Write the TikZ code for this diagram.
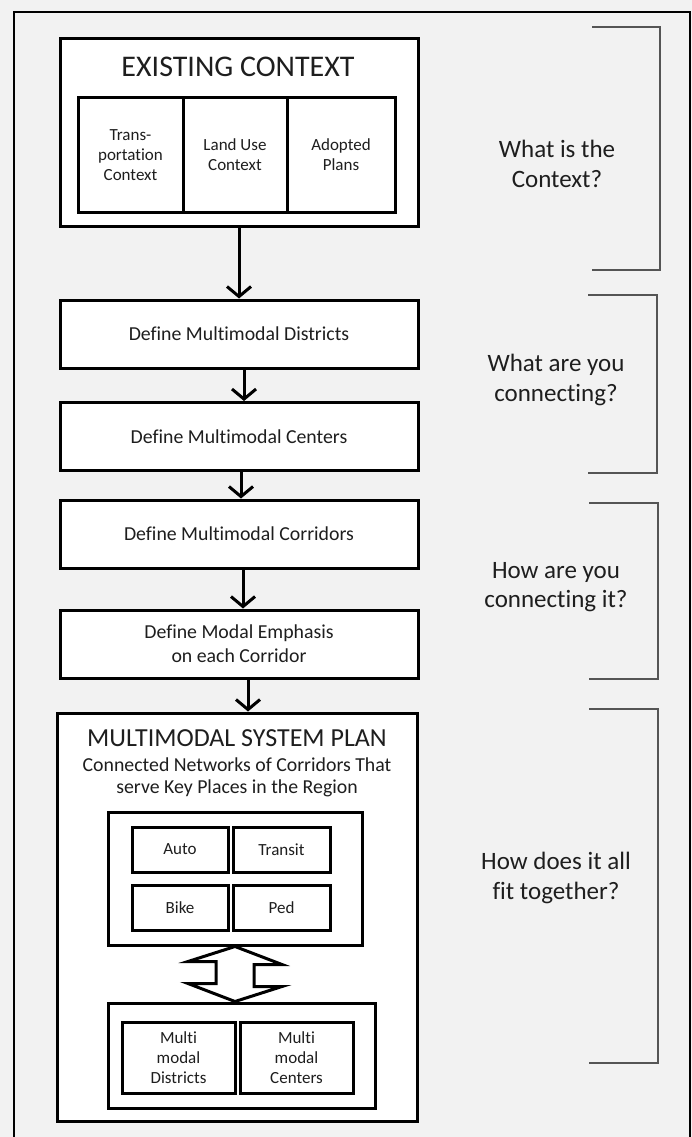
\documentclass[tikz,border=0pt]{standalone}
\usepackage{fontspec}
\setmainfont{Carlito}[Ligatures=NoCommon]
\usetikzlibrary{arrows.meta,positioning}
\definecolor{bgpage}{RGB}{242,242,242}
\definecolor{txtgray}{RGB}{30,30,30}
\definecolor{bracketgray}{RGB}{85,85,85}

\begin{document}
\begin{tikzpicture}[x=1pt,y=-1pt]
          \useasboundingbox (0,0) rectangle (692,1137);
          \fill[bgpage] (0,0) rectangle (692,1137);
          \draw[line width=2.2pt] (14,1137) -- (14,12) -- (690,12) -- (690,1137);

          \tikzstyle{box}=[draw, fill=white, line width=3pt, inner sep=0pt, text=txtgray, align=center]
          \tikzstyle{stepbox}=[box, minimum width=358pt, minimum height=68pt, font=\fontsize{19.8}{24}\selectfont]
          \tikzstyle{subbox}=[box, font=\fontsize{17}{20}\selectfont]
          \tikzstyle{modebox}=[box, minimum width=96pt, minimum height=45pt, font=\fontsize{17}{20}\selectfont]
          \tikzstyle{title}=[text=txtgray, align=center, inner sep=0pt]
          \tikzstyle{question}=[text=txtgray, align=center, inner sep=0pt, font=\fontsize{25}{29.5}\selectfont]

          % Existing context
          \node[box, minimum width=358pt, minimum height=187pt] (ctx) at (239,132.5) {};
          \node[title, font=\fontsize{30}{34}\selectfont] (ctxT) at (238,67) {EXISTING CONTEXT};
          \node[subbox, minimum width=105pt, minimum height=114pt] (trn) at (130.5,155) {Trans-\\portation\\Context};
          \node[subbox, minimum width=104pt, minimum height=114pt] (lnd) at (235,155) {Land Use\\Context};
          \node[subbox, minimum width=108pt, minimum height=114pt] (adp) at (341,155) {Adopted\\Plans};

          % Steps
          \node[stepbox] (dist) at (239,334) {Define Multimodal Districts};
          \node[stepbox] (cent) at (239,436.5) {Define Multimodal Centers};
          \node[stepbox] (corr) at (239,534) {Define Multimodal Corridors};
          \node[stepbox] (emph) at (239,644) {Define Modal Emphasis\\on each Corridor};

          % System plan
          \node[box, minimum width=360pt, minimum height=408pt] (plan) at (237,917) {};
          \node[title, font=\fontsize{26}{30}\selectfont] (planT) at (237,738) {MULTIMODAL SYSTEM PLAN};
          \node[title, font=\fontsize{19.8}{21.5}\selectfont] (planS) at (237,777.5) {Connected Networks of Corridors That\\serve Key Places in the Region};
          \node[box, minimum width=254pt, minimum height=133pt] (up) at (235,878.5) {};
          \node[modebox] (auto) at (180,849.5) {Auto};
          \node[modebox, minimum width=97pt] (trns) at (281.5,849.5) {Transit};
          \node[modebox] (bike) at (180,907.5) {Bike};
          \node[modebox, minimum width=97pt] (ped) at (281.5,907.5) {Ped};
          \node[box, minimum width=267pt, minimum height=105pt] (low) at (241.5,1055.5) {};
          \node[subbox, minimum width=113pt, minimum height=71pt] (mdis) at (178.5,1057.5) {Multi\\modal\\Districts};
          \node[subbox, minimum width=113pt, minimum height=71pt] (mcen) at (296.5,1057.5) {Multi\\modal\\Centers};

          \tikzstyle{every edge}=[draw, line width=3pt, -{Straight Barb[length=10pt,width=24pt]}]
          \path (ctx) edge (dist);
          \path ([xshift=5pt]dist.south) edge ([xshift=5pt]cent.north);
          \path ([xshift=2pt]cent.south) edge ([xshift=2pt]corr.north);
          \path ([xshift=4pt]corr.south) edge ([xshift=4pt]emph.north);
          \path ([xshift=9pt]emph.south) edge ([xshift=11pt]plan.north);

          % two way link
          \draw[line width=3pt, fill=white, line join=miter]
            (up.south) -- ++(47,18) -- ++(-28,0) -- ++(0,22) -- ++(28,0)
            -- (up.south |- low.north) -- ++(-47,-18) -- ++(28,0) -- ++(0,-22) -- ++(-28,0) -- cycle;

          % Brackets and questions
          \foreach \xa/\xb/\ya/\yb in {592/660/27/270, 588/657/295/473, 589/658/503/679, 589/658/709/1063}
            \draw[bracketgray, line width=1.6pt] (\xa,\ya) -- (\xb,\ya) -- (\xb,\yb) -- (\xa,\yb);
          \node[question] (q1) at (557,164) {What is the\\Context?};
          \node[question] (q2) at (556,380) {What are you\\connecting?};
          \node[question] (q3) at (556,587) {How are you\\connecting it?};
          \node[question] (q4) at (556,878) {How does it all\\fit together?};
\end{tikzpicture}
\end{document}
